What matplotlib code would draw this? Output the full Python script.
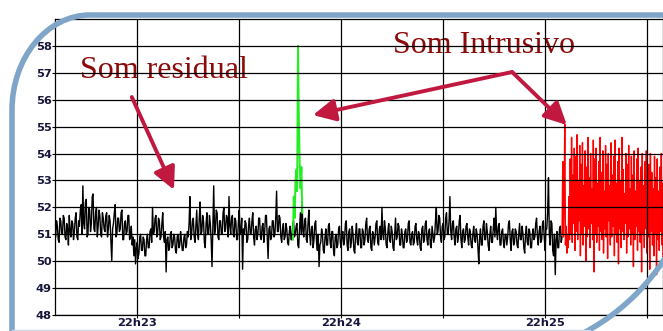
import matplotlib.pyplot as plt
import matplotlib.transforms as mtransforms
from matplotlib.path import Path
from matplotlib.patches import PathPatch
from matplotlib.lines import Line2D
import numpy as np

plt.rcParams['font.family'] = 'DejaVu Sans'
plt.rcParams['font.weight'] = 'bold'

# time axis: seconds after 22h22m00
residual_start = 36.0
residual_step = 0.25
residual_db = [
    50.9, 51.5, 51.3, 50.8, 50.7, 51.6, 51.5, 51.0, 51.0, 51.7, 51.6, 50.9, 50.8, 51.4, 51.2, 50.6,
    51.7, 51.1, 50.9, 51.5, 51.4, 50.8, 51.1, 51.6, 51.8, 50.9, 50.8, 51.5, 51.3, 51.9,
    52.1, 51.0, 52.8, 51.4, 51.2, 52.2, 52.3, 50.9, 51.0, 52.0, 51.9, 51.1, 51.4, 52.4, 52.5, 51.2,
    51.1, 51.8, 52.0, 50.9, 51.3, 51.9, 51.7, 51.0, 50.9, 51.8, 51.6, 51.2, 51.1, 51.7,
    51.8, 50.9, 51.2, 51.7, 51.5, 50.7, 50.0, 51.2, 51.4, 51.8, 52.1, 50.9, 51.0, 51.6, 51.6, 51.1,
    51.2, 51.8, 51.9, 50.8, 50.8, 51.4, 51.5, 51.0, 51.1, 51.7, 51.7, 50.8, 50.9, 51.3,
    50.6, 50.9, 50.2, 50.8, 49.9, 50.5, 50.7, 50.1, 50.3, 50.9, 51.0, 50.4, 50.4, 50.9, 50.8, 50.2,
    50.2, 50.8, 51.0, 50.5, 50.5, 51.1, 51.2, 50.7, 52.0, 51.0, 51.1, 51.6, 51.7, 50.9,
    51.0, 51.6, 51.5, 50.8, 50.9, 51.4, 51.8, 50.9, 50.7, 51.1, 49.6, 50.8, 50.9, 50.4, 50.5, 51.0,
    51.1, 50.5, 50.6, 51.0, 50.9, 50.4, 50.3, 50.9, 51.0, 50.5, 50.6, 51.1, 50.8, 50.4,
    50.4, 50.9, 51.0, 50.5, 50.6, 51.1, 50.9, 51.4, 52.4, 50.8, 51.0, 51.5, 51.6, 50.9, 50.7, 51.3,
    51.9, 51.0, 50.8, 51.6, 52.2, 51.0, 51.1, 51.7, 51.5, 50.7, 50.5, 51.4, 51.8, 51.0,
    51.0, 51.7, 51.4, 50.8, 49.8, 51.3, 52.8, 51.0, 51.2, 51.9, 51.8, 50.9, 50.8, 51.5, 51.5, 51.0,
    51.0, 51.8, 52.0, 51.1, 51.2, 51.7, 51.6, 50.9, 52.4, 51.3, 51.0, 51.6, 51.7, 51.0,
    50.9, 51.6, 51.5, 50.8, 50.8, 51.4, 51.9, 51.0, 51.1, 51.6, 49.7, 51.2, 51.0, 51.5, 51.4, 50.7,
    50.8, 51.3, 51.6, 51.0, 51.0, 51.5, 51.8, 50.9, 50.6, 51.2, 51.3, 50.8, 51.0, 51.6,
    51.6, 50.9, 50.8, 51.3, 51.4, 50.7, 51.1, 51.7, 51.7, 50.9, 50.1, 51.2, 51.3, 50.8, 50.9, 51.5,
    51.5, 50.9, 51.0, 51.6, 52.6, 51.1, 51.1, 51.7, 51.6, 50.9, 50.7, 51.2, 51.4, 50.8,
    50.9, 51.4, 51.2, 50.7, 50.6, 51.1, 51.3, 50.8, 50.8, 51.4, 51.5, 50.9, 51.0, 51.3, 51.4, 50.6,
    50.5, 51.2, 51.8, 51.0, 52.2, 51.1, 50.9, 51.5, 51.6, 50.8, 50.7, 51.4, 51.9, 51.0,
    50.6, 51.2, 51.3, 50.5, 50.8, 51.4, 51.5, 50.7, 50.4, 51.0, 49.8, 50.6, 50.7, 51.2, 51.0, 50.4,
    50.3, 50.9, 51.2, 50.6, 50.6, 51.3, 51.4, 50.7, 50.5, 51.1, 51.1, 50.4, 50.2, 50.9,
    51.0, 50.5, 50.6, 51.2, 51.3, 50.7, 50.5, 51.0, 51.1, 50.6, 50.8, 51.4, 51.5, 50.6, 50.4, 51.1,
    51.2, 50.5, 50.7, 51.3, 51.0, 50.4, 50.3, 51.0, 51.4, 50.7, 50.6, 51.2, 51.2, 50.5,
    50.5, 51.2, 51.1, 50.6, 50.8, 51.4, 51.6, 50.8, 50.7, 51.2, 51.3, 50.5, 50.4, 51.1, 51.0, 50.6,
    50.9, 51.4, 51.5, 50.7, 50.6, 51.2, 51.3, 50.8, 52.0, 51.0, 50.8, 51.5, 51.2, 50.6,
    50.5, 51.1, 51.4, 50.8, 50.7, 51.3, 51.1, 50.5, 50.4, 51.0, 51.6, 50.8, 50.9, 51.4, 51.3, 50.6,
    50.6, 51.2, 51.0, 50.5, 50.5, 51.1, 51.2, 50.7, 50.8, 51.4, 51.5, 50.7, 50.6, 51.0,
    51.1, 50.6, 50.7, 51.3, 51.4, 50.8, 50.6, 51.1, 51.0, 50.5, 50.4, 51.2, 51.3, 50.7, 50.8, 51.4,
    51.5, 50.8, 50.6, 51.1, 51.2, 50.6, 50.5, 51.3, 51.0, 50.7, 50.9, 51.5, 52.0, 51.0,
    51.1, 51.7, 51.6, 50.9, 50.7, 51.3, 51.4, 50.8, 50.9, 51.6, 51.8, 51.0, 51.0, 51.5, 52.4, 51.1,
    50.8, 51.4, 51.5, 50.9, 50.6, 51.2, 51.3, 50.7, 50.9, 51.5, 51.7, 50.8, 50.5, 51.1,
    51.2, 50.7, 50.8, 51.3, 51.4, 50.9, 50.6, 51.2, 51.1, 50.6, 50.5, 51.0, 51.3, 50.8, 50.7, 51.2,
    51.0, 50.5, 49.9, 50.9, 51.2, 50.6, 50.6, 51.3, 51.5, 50.8, 50.8, 51.4, 51.1, 50.6,
    50.4, 51.0, 51.3, 50.7, 50.7, 51.2, 51.6, 50.9, 52.0, 51.1, 50.8, 51.3, 51.4, 50.6, 50.6, 51.1,
    51.2, 50.7, 50.5, 51.0, 51.0, 50.6, 50.9, 51.4, 51.5, 50.8, 50.4, 51.1, 51.2, 50.6,
    50.7, 51.2, 51.1, 50.6, 50.5, 51.0, 51.4, 50.8, 50.8, 51.3, 51.0, 50.5, 50.3, 51.0, 51.3, 50.7,
    50.6, 51.2, 51.1, 50.5, 50.5, 51.0, 51.2, 50.8, 50.9, 51.4, 51.6, 50.9, 50.6, 51.1,
    51.3, 50.7, 50.8, 51.4, 51.5, 50.9, 50.4, 51.2, 51.2, 51.8, 53.1, 51.0, 50.6, 51.5, 51.4, 50.4,
    50.2, 51.0, 49.5, 50.8, 51.1, 50.5, 50.5, 51.2, 51.3, 50.7, 50.9,
]

spike_start = 105.8
spike_step = 0.25
spike_db = [50.8, 52.4, 51.6, 52.9, 53.4, 52.6, 58.0, 55.3, 53.6, 52.7, 53.5, 51.8]

intrusive_start = 185.0
intrusive_step = 0.2
intrusive_db = [
    51.0, 53.7, 50.9, 52.2, 55.1, 50.6, 51.3, 50.3, 51.0, 50.5, 52.4, 50.8, 53.8, 51.0, 54.6, 50.7, 53.2, 51.4, 54.2, 50.4,
    53.9, 51.1, 54.7, 50.8, 53.0, 51.5, 54.3, 50.2, 53.6, 51.0, 54.4, 50.6, 52.8, 51.3, 54.1, 50.0, 53.5, 50.9, 54.6, 51.2,
    53.1, 50.5, 54.0, 51.4, 52.7, 50.8, 54.5, 49.6, 53.8, 51.0, 54.2, 50.7, 52.9, 51.3, 53.7, 50.4, 54.6, 51.1, 53.3, 50.8,
    54.1, 50.3, 52.6, 51.2, 54.3, 50.9, 53.6, 50.1, 54.0, 51.5, 52.8, 50.6, 54.4, 50.9, 53.2, 51.3, 53.9, 50.2, 54.5, 51.0,
    52.9, 50.7, 53.7, 49.9, 54.2, 51.2, 53.0, 50.5, 54.6, 51.1, 53.4, 50.8, 52.5, 51.4, 54.0, 50.3, 53.6, 50.9, 54.3, 51.2,
    52.7, 50.6, 53.9, 51.0, 53.2, 49.8, 54.1, 50.8, 52.6, 51.3, 53.8, 50.4, 54.2, 51.1, 53.0, 50.7, 53.5, 49.6, 54.0, 51.0,
    52.8, 50.5, 53.7, 51.2, 54.1, 50.3, 52.9, 50.9, 53.6, 49.7, 54.0, 51.1, 53.3, 50.6, 52.7, 50.2, 53.9, 51.0, 53.1, 49.5,
    53.8, 50.8, 52.6, 50.4, 53.5, 51.1, 54.0, 50.6, 52.9, 50.0, 53.6, 50.9, 53.2, 50.5,
]

y_ticks = list(range(48, 59))
x_major = [60, 120, 180]
x_major_labels = ['22h23', '22h24', '22h25']
x_minor = [90, 150, 210]

t_res = residual_start + residual_step * np.arange(len(residual_db))
t_spk = spike_start + spike_step * np.arange(len(spike_db))
t_int = intrusive_start + intrusive_step * np.arange(len(intrusive_db))

fig = plt.figure(figsize=(6.63, 3.31), dpi=100, facecolor='white')
ax = fig.add_axes([55 / 663, 16 / 331, 608 / 663, 296 / 331])

ax.plot(t_res, residual_db, color='black', lw=1.0, zorder=2)
ax.plot(t_int, intrusive_db, color='#ff0000', lw=1.0, zorder=2)
ax.plot(t_spk, spike_db, color='#22ee22', lw=1.4, zorder=2.1)

ax.set_xlim(35.8, 214.7)
ax.set_ylim(48, 59)
ax.set_yticks(y_ticks)
ax.set_xticks(x_major)
ax.set_xticklabels(x_major_labels)
ax.set_xticks(x_minor, minor=True)
ax.set_axisbelow(False)
ax.grid(True, which='both', color='black', lw=0.9)
ax.tick_params(axis='both', which='both', direction='out', length=2.5, width=0.8,
               pad=0, labelsize=8.2, labelcolor='#16163c')
for s in ax.spines.values():
    s.set_linewidth(0.9)

# annotations
red_txt = '#8b0a0a'
arrow_col = '#c0183e'
ax.text(43.15, 56.81, 'Som residual', family='Liberation Serif', fontweight='normal',
        fontsize=23, color=red_txt, va='baseline', ha='left', zorder=2)
ax.text(135.2, 57.74, 'Som Intrusivo', family='Liberation Serif', fontweight='normal',
        fontsize=23, color=red_txt, va='baseline', ha='left', zorder=2)

aprops = dict(arrowstyle='-|>,head_length=0.9,head_width=0.45', color=arrow_col,
              lw=2.8, shrinkA=0, shrinkB=0, mutation_scale=15)
ax.annotate('', xy=(70.8, 52.65), xytext=(58.4, 56.10), arrowprops=aprops, zorder=4)
ax.annotate('', xy=(111.7, 55.43), xytext=(170.3, 57.03), arrowprops=aprops, zorder=4)
ax.annotate('', xy=(186.4, 55.06), xytext=(170.3, 57.03), arrowprops=aprops, zorder=4)

# slide frame (pixel coordinates, origin top-left)
px = mtransforms.Affine2D().scale(1 / 663, -1 / 331).translate(0, 1) + fig.transFigure
frame_col = '#7fa6c8'
corner = Path([(12, 331), (12, 110), (12, 57.75), (47, 15), (90, 15), (663, 15)],
              [Path.MOVETO, Path.LINETO, Path.CURVE4, Path.CURVE4, Path.CURVE4, Path.LINETO])
fig.add_artist(PathPatch(corner, fill=False, edgecolor=frame_col, lw=4.0,
                         transform=px, capstyle='butt'))
arc_tr = mtransforms.Affine2D().scale(219).translate(481, 139.5) + px
fig.add_artist(PathPatch(Path.arc(0, 90), fill=False, edgecolor=frame_col, lw=4.0,
                         transform=arc_tr))
fig.add_artist(Line2D([12, 590], [329.5, 329.5], transform=px, color='#c9d7e6', lw=1))

fig.savefig('out.png', dpi=100)
